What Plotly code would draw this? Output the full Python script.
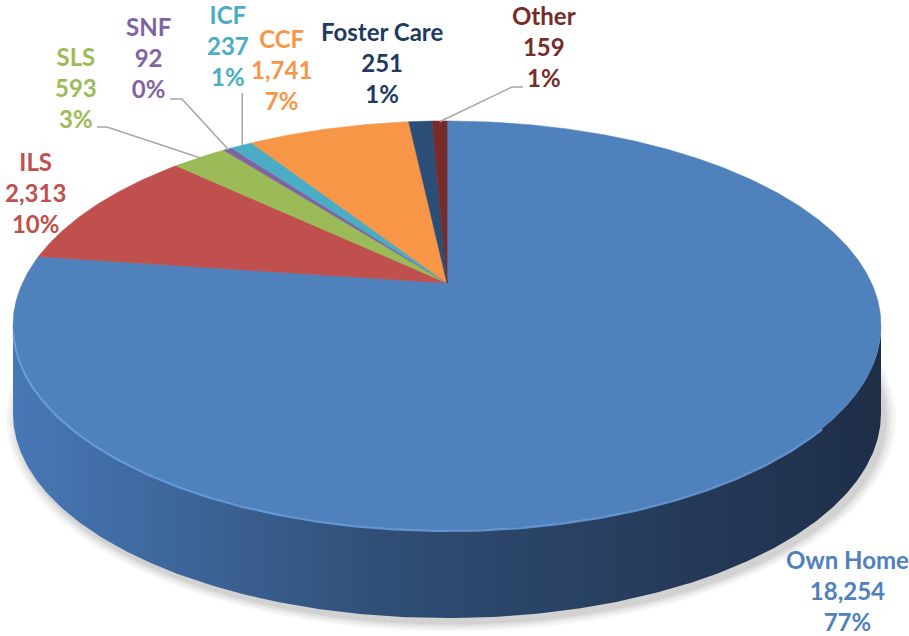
import numpy as np
import plotly.graph_objects as go

# ---------------- data ----------------
labels = ["Own Home", "ILS", "SLS", "SNF", "ICF", "CCF", "Foster Care", "Other"]
values = [18254, 2313, 593, 92, 237, 1741, 251, 159]
slice_colors = ["#4f81bd", "#c0504d", "#9bbb59", "#8064a2", "#4bacc6",
                "#f79646", "#2c4d75", "#772c2a"]
text_colors = ["#4f81bd", "#c0504d", "#9bbb59", "#8064a2", "#4bacc6",
               "#f79646", "#1f3a60", "#772c2a"]

# ---------------- layout constants (pixel space) ----------------
W, H = 909, 636
CX, CY = 447, 283          # projected pie centre
A, B, K = 424.5, 195.7, 0.208  # ellipse radii + perspective factor
DEPTH = 88

label_pos = {
    "Own Home": (847, 590), "ILS": (35, 192), "SLS": (76, 87),
    "SNF": (148, 57), "ICF": (228, 45), "CCF": (281, 69),
    "Foster Care": (382, 62), "Other": (544, 46),
}
leader_knees = {
    "SLS": [(97, 127), (107, 127)],
    "SNF": [(170, 99), (182, 99)],
    "ICF": [(None, 93)],
    "Other": [(523, 87), (512, 87)],
}


def proj(phi_deg, r=1.0):
    p = np.radians(np.asarray(phi_deg, dtype=float))
    u, v = r * np.cos(p), r * np.sin(p)
    s = 1.0 / (1.0 + K * v)
    return CX + A * u * s, CY - B * v * s


total = sum(values)
fig = go.Figure()

# ---------------- soft shadow ----------------
ph = np.linspace(0, 360, 361)
bx, by = proj(ph)
by = by + DEPTH
ecx, ecy = CX, CY + DEPTH + 40
for g, a in [(0.025, 0.035), (0.018, 0.04), (0.011, 0.05), (0.005, 0.06)]:
    sx = ecx + (bx - ecx) * (1 + g) + 4
    sy = ecy + (by - ecy) * (1 + g * 1.6) + 5
    fig.add_trace(go.Scatter(x=sx, y=sy, mode="lines", fill="toself",
                             fillcolor=f"rgba(0,0,0,{a})", line=dict(width=0),
                             hoverinfo="skip", showlegend=False))

# ---------------- side wall (front half) ----------------
left_sil = 180 + np.degrees(np.arcsin(K))
right_sil = 360 - np.degrees(np.arcsin(K))
ph = np.linspace(left_sil, right_sil, 300)
tx, ty = proj(ph)
sx = np.concatenate([tx, tx[::-1]])
sy = np.concatenate([ty, (ty + DEPTH)[::-1]])
fig.add_trace(go.Scatter(
    x=sx, y=sy, mode="lines", fill="toself", line=dict(width=0),
    fillgradient=dict(type="horizontal",
                      colorscale=[[0, "#4778b6"], [0.45, "#2f4c73"], [1, "#1e2e47"]]),
    hoverinfo="skip", showlegend=False))

# ---------------- top face slices ----------------
cum = 0
mid_angles = {}
for lab, val, col in zip(labels, values, slice_colors):
    a0 = 90 - 360 * cum / total
    a1 = 90 - 360 * (cum + val) / total
    mid_angles[lab] = (a0 + a1) / 2
    n = max(3, int(abs(a1 - a0) * 3) + 2)
    ax_, ay_ = proj(np.linspace(a0, a1, n))
    px = np.concatenate([[CX], ax_, [CX]])
    py = np.concatenate([[CY], ay_, [CY]])
    fig.add_trace(go.Scatter(x=px, y=py, mode="lines", fill="toself",
                             fillcolor=col, line=dict(color=col, width=0.6),
                             hoverinfo="skip", showlegend=False))
    cum += val

# rim highlight on the front edge
ph = np.linspace(left_sil + 2, 320, 200)
hx, hy = proj(ph)
fig.add_trace(go.Scatter(x=hx, y=hy + 1, mode="lines",
                         line=dict(color="rgba(110,165,230,0.8)", width=2),
                         hoverinfo="skip", showlegend=False))

# ---------------- leader lines ----------------
for lab, knees in leader_knees.items():
    ex, ey = proj(mid_angles[lab], 0.995)
    ex, ey = float(ex), float(ey)
    xs, ys = [], []
    for kx, ky in knees:
        xs.append(ex if kx is None else kx)
        ys.append(ky)
    xs.append(ex)
    ys.append(ey)
    fig.add_trace(go.Scatter(x=xs, y=ys, mode="lines",
                             line=dict(color="#a6a6a6", width=1.5),
                             hoverinfo="skip", showlegend=False))

# ---------------- labels ----------------
for lab, val, tc in zip(labels, values, text_colors):
    pct = round(val / total * 100)
    x, y = label_pos[lab]
    fig.add_annotation(x=x, y=y, xref="x", yref="y",
                       text=f"<b>{lab}<br>{val:,}<br>{pct}%</b>",
                       showarrow=False, align="center",
                       xanchor="center", yanchor="middle",
                       font=dict(family="Lato", size=24, color=tc))

fig.update_layout(
    width=W, height=H, margin=dict(l=0, r=0, t=0, b=0),
    paper_bgcolor="white", plot_bgcolor="white", showlegend=False,
    xaxis=dict(range=[0, W], visible=False, fixedrange=True),
    yaxis=dict(range=[H, 0], visible=False, fixedrange=True),
)

fig.write_html("out.html", config={"displayModeBar": False},
               post_script="document.body.style.margin='0px';"
                           "document.body.style.overflow='hidden';")
